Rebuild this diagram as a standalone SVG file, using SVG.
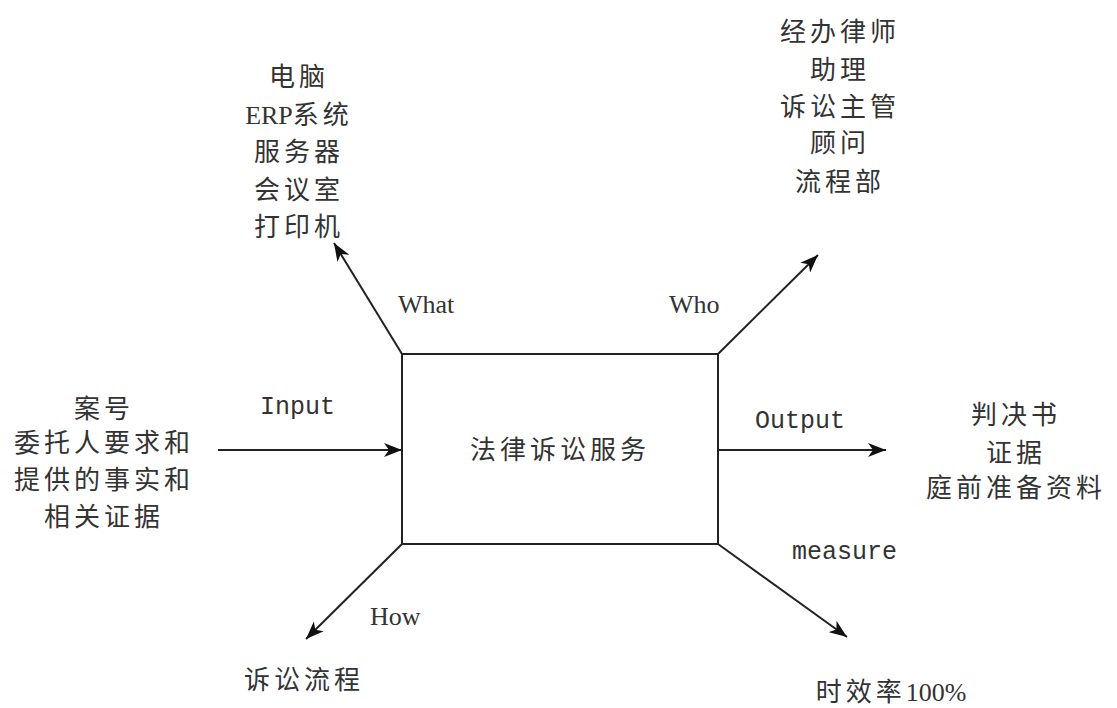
<svg xmlns="http://www.w3.org/2000/svg" width="1117" height="708" viewBox="0 0 1117 708">
<style>
.cjk{font-family:"Noto Sans CJK SC","Liberation Serif",sans-serif;font-size:26px;fill:#333;text-anchor:middle;letter-spacing:4px}
.lbl{font-family:"Liberation Mono",monospace;font-size:25px;fill:#333}
.ser{font-family:"Liberation Serif",serif;font-size:26px;fill:#333}
.ln{stroke:#222;stroke-width:2;fill:none;marker-end:url(#ah)}
</style>
<defs>
<marker id="ah" markerUnits="userSpaceOnUse" markerWidth="20" markerHeight="14" refX="18" refY="7" orient="auto">
<path d="M0,0 L18,7 L0,14 L5,7 Z" fill="#111"/>
</marker>
</defs>
<rect width="1117" height="708" fill="#fff"/>
<g id="connectors">
<line class="ln" x1="218" y1="450" x2="402" y2="450"/>
<line class="ln" x1="718" y1="450" x2="886" y2="450"/>
<line class="ln" x1="402" y1="354" x2="334" y2="243"/>
<line class="ln" x1="718" y1="354" x2="818" y2="255"/>
<line class="ln" x1="402" y1="544" x2="306" y2="639"/>
<line class="ln" x1="718" y1="544" x2="847" y2="637"/>
<text class="ser" x="398" y="313">What</text>
<text class="ser" x="669" y="313">Who</text>
<text class="lbl" x="260" y="414">Input</text>
<text class="lbl" x="755" y="428">Output</text>
<text class="lbl" x="792" y="559">measure</text>
<text class="ser" x="370" y="625">How</text>
</g>
<g id="center">
<rect x="402" y="354" width="316" height="190" fill="#fff" stroke="#222" stroke-width="2"/>
<text class="cjk" x="560" y="459">法律诉讼服务</text>
</g>
<g id="input">
<text class="cjk" x="104" y="418">案号</text>
<text class="cjk" x="104" y="452">委托人要求和</text>
<text class="cjk" x="104" y="489">提供的事实和</text>
<text class="cjk" x="104" y="526">相关证据</text>
</g>
<g id="what">
<text class="cjk" x="299" y="86">电脑</text>
<text class="cjk" x="299" y="124"><tspan font-family="Liberation Serif" letter-spacing="0">ERP</tspan>系统</text>
<text class="cjk" x="299" y="161">服务器</text>
<text class="cjk" x="299" y="199">会议室</text>
<text class="cjk" x="299" y="236">打印机</text>
</g>
<g id="who">
<text class="cjk" x="840" y="41">经办律师</text>
<text class="cjk" x="840" y="79">助理</text>
<text class="cjk" x="840" y="116">诉讼主管</text>
<text class="cjk" x="840" y="152">顾问</text>
<text class="cjk" x="840" y="191">流程部</text>
</g>
<g id="output">
<text class="cjk" x="1016" y="424">判决书</text>
<text class="cjk" x="1016" y="462">证据</text>
<text class="cjk" x="1016" y="497">庭前准备资料</text>
</g>
<g id="how">
<text class="cjk" x="304" y="689">诉讼流程</text>
</g>
<g id="measure">
<text class="cjk" x="891" y="701">时效率<tspan font-family="Liberation Serif" letter-spacing="0">100%</tspan></text>
</g>
</svg>
